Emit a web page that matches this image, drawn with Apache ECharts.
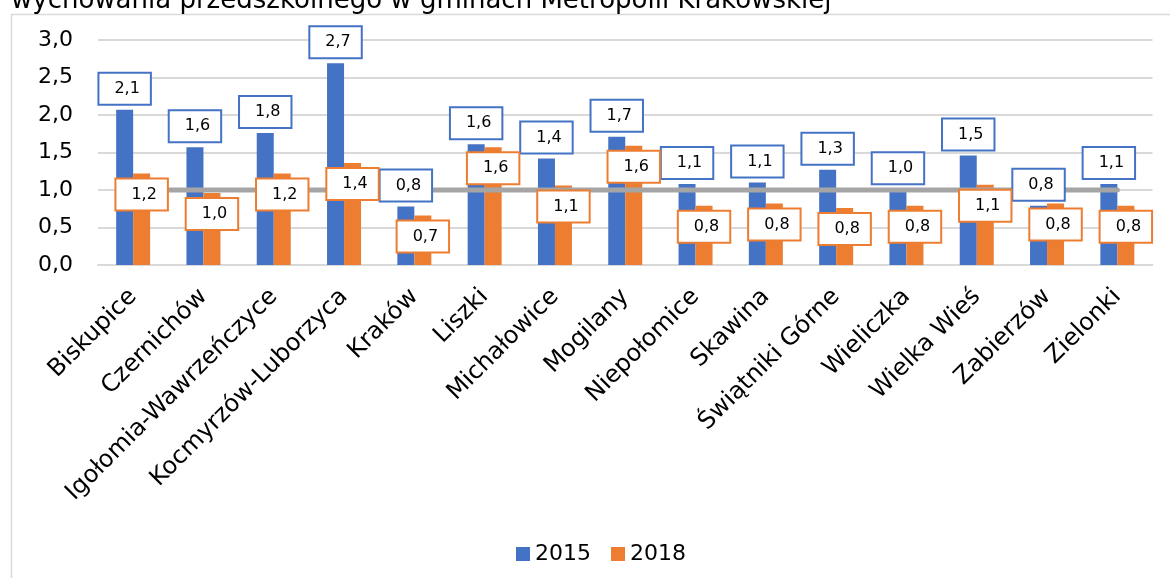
<!DOCTYPE html>
<html>
<head>
<meta charset="utf-8">
<script src="https://cdn.jsdelivr.net/npm/echarts@6/dist/echarts.min.js"></script>
<style>
  html, body { margin: 0; padding: 0; background: #fff; }
  #chart { width: 1170px; height: 578px; }
</style>
</head>
<body>
<div id="chart"></div>
<script>
const titleText = 'wychowania przedszkolnego w gminach Metropolii Krakowskiej';
const categories = ['Biskupice', 'Czernichów', 'Igołomia-Wawrzeńczyce', 'Kocmyrzów-Luborzyca', 'Kraków', 'Liszki', 'Michałowice', 'Mogilany', 'Niepołomice', 'Skawina', 'Świątniki Górne', 'Wieliczka', 'Wielka Wieś', 'Zabierzów', 'Zielonki'];
const values2015 = [2.07, 1.57, 1.76, 2.69, 0.78, 1.61, 1.42, 1.71, 1.08, 1.10, 1.27, 1.01, 1.46, 0.79, 1.08];
const values2018 = [1.22, 0.96, 1.22, 1.36, 0.66, 1.57, 1.06, 1.59, 0.79, 0.82, 0.76, 0.79, 1.07, 0.82, 0.79];
const referenceLine = [1.0, 1.0, 1.0, 1.0, 1.0, 1.0, 1.0, 1.0, 1.0, 1.0, 1.0, 1.0, 1.0, 1.0, 1.0];
const yTicks = [0, 0.5, 1.0, 1.5, 2.0, 2.5, 3.0];
const seriesNames = ['2015', '2018'];

const BLUE = '#4472C4', ORANGE = '#ED7D31', GRAY = '#A5A5A5', GRID = '#D9D9D9';
const FONT = '"DejaVu Sans", Verdana, sans-serif';
const fmt = v => (typeof v === 'object' ? v.value : v).toFixed(1).replace('.', ',');

const chart = echarts.init(document.getElementById('chart'), null, { renderer: 'canvas' });

function labelBox(color, position) {
  return {
    show: true,
    position: position,
    distance: 6,
    formatter: p => fmt(p.value),
    fontFamily: FONT,
    fontSize: 16,
    lineHeight: 18,
    color: '#000',
    backgroundColor: '#fff',
    borderColor: color,
    borderWidth: 2,
    padding: [6, 10, 6, 15]
  };
}

const option = {
  animation: false,
  backgroundColor: '#fff',
  textStyle: { fontFamily: FONT },
  title: {
    text: titleText,
    left: 6,
    top: -17,
    textStyle: { fontFamily: FONT, fontSize: 26, fontWeight: 'normal', color: '#000' }
  },
  graphic: [{
    type: 'rect',
    left: 9,
    top: 12,
    shape: { width: 1300, height: 700 },
    style: { fill: 'none', stroke: GRID, lineWidth: 1.5 },
    silent: true,
    z: -1
  }],
  legend: {
    data: seriesNames,
    left: 511,
    top: 538,
    itemWidth: 14,
    itemHeight: 14,
    itemGap: 20,
    icon: 'rect',
    textStyle: { fontFamily: FONT, fontSize: 22, color: '#000' }
  },
  grid: { left: 98, right: 17.5, top: 40, bottom: 313, containLabel: false },
  xAxis: [{
    type: 'category',
    data: categories,
    axisTick: { show: false },
    axisLine: { lineStyle: { color: GRID, width: 2 } },
    axisLabel: {
      interval: 0,
      rotate: 45,
      margin: 28,
      fontFamily: FONT,
      fontSize: 24,
      color: '#000'
    }
  }, {
    type: 'category',
    data: categories,
    show: false,
    position: 'bottom'
  }],
  yAxis: {
    type: 'value',
    min: 0,
    max: 3,
    interval: 0.5,
    axisLine: { show: false },
    axisTick: { show: false },
    axisLabel: {
      formatter: v => yTicks.indexOf(v) >= 0 ? v.toFixed(1).replace('.', ',') : '',
      fontFamily: FONT,
      fontSize: 22,
      margin: 25,
      color: '#000'
    },
    splitLine: { lineStyle: { color: GRID, width: 2 } }
  },
  series: [
    {
      name: seriesNames[0], type: 'bar', xAxisIndex: 0, data: values2015,
      barWidth: 17, barGap: 0, z: 2,
      itemStyle: { color: BLUE }
    },
    {
      name: seriesNames[1], type: 'bar', xAxisIndex: 0, data: values2018,
      barWidth: 17, barGap: 0, z: 2,
      itemStyle: { color: ORANGE }
    },
    {
      name: 'ref', type: 'line', xAxisIndex: 0, data: referenceLine,
      symbol: 'none', z: 3, silent: true,
      lineStyle: { color: GRAY, width: 5, cap: 'round' }
    },
    {
      name: 'lab2015', type: 'bar', xAxisIndex: 1, data: values2015,
      barWidth: 17, barGap: 0, z: 4, silent: true,
      itemStyle: { color: 'rgba(0,0,0,0)' },
      label: labelBox(BLUE, 'top')
    },
    {
      name: 'lab2018', type: 'bar', xAxisIndex: 1, data: values2018,
      barWidth: 17, barGap: 0, z: 4, silent: true,
      itemStyle: { color: 'rgba(0,0,0,0)' },
      label: labelBox(ORANGE, 'insideTop')
    }
  ]
};
chart.setOption(option);
</script>
</body>
</html>
